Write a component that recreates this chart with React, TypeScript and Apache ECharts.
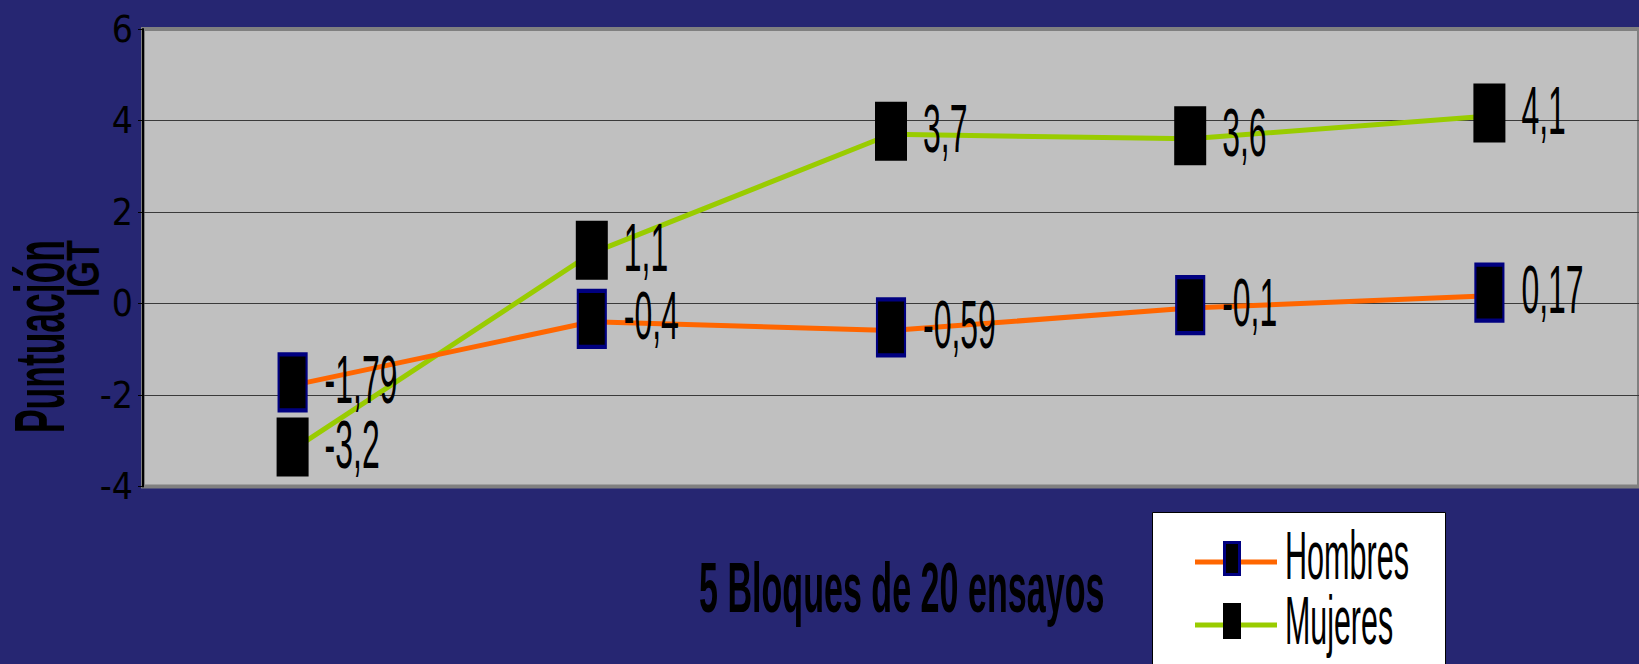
import React, { useEffect, useRef } from "react";
import * as echarts from "echarts";

const categories = ["Bloque 1", "Bloque 2", "Bloque 3", "Bloque 4", "Bloque 5"];
const seriesNames = ["Hombres", "Mujeres"];
const hombres = [-1.79, -0.4, -0.59, -0.1, 0.17];
const mujeres = [-3.2, 1.1, 3.7, 3.6, 4.1];
const yAxisTitle = ["Puntuación", "IGT"];
const xAxisTitle = "5 Bloques de 20 ensayos";
const yMin = -4;
const yMax = 6;
const yStep = 2;

const BG = "#262672";
const ORANGE = "#FF6600";
const GREEN = "#99CC00";
const NAVY = "#000080";
const LABEL_FONT = '"Liberation Sans", Arial, sans-serif';

const fmt = (v: number) => String(v).replace(".", ",");

const labelSeries = (name: string, values: number[]) => ({
  type: "custom",
  name: name + "-labels",
  coordinateSystem: "cartesian2d",
  silent: true,
  z: 5,
  encode: { x: 0, y: 1 },
  data: values.map((v, i) => [i, v]),
  renderItem: (_params: any, api: any) => {
    const v = api.value(1);
    const p = api.coord([api.value(0), v]);
    return {
      type: "text",
      x: p[0] + 32,
      y: p[1] - 6,
      scaleX: 0.47,
      style: {
        text: fmt(v),
        fill: "#000",
        font: "68px " + LABEL_FONT,
        align: "left",
        verticalAlign: "middle",
      },
    };
  },
});

export default function App() {
  const ref = useRef<HTMLDivElement>(null);
  useEffect(() => {
    if (!ref.current) return;
    const chart = echarts.init(ref.current, undefined, { renderer: "svg" });
    chart.setOption({
      animation: false,
      backgroundColor: BG,
      grid: {
        left: 143,
        right: -18,
        top: 29,
        bottom: 177.5,
        show: true,
        backgroundColor: "#C0C0C0",
        borderColor: "#808080",
        borderWidth: 4,
      },
      xAxis: {
        type: "category",
        data: categories,
        boundaryGap: true,
        axisLine: { show: false },
        axisTick: { show: false },
        axisLabel: { show: false },
        splitLine: { show: false },
      },
      yAxis: {
        type: "value",
        min: yMin,
        max: yMax,
        interval: yStep,
        axisLine: { show: true, lineStyle: { color: "#000", width: 2 } },
        axisTick: { show: true, length: 5, lineStyle: { color: "#000", width: 1 } },
        axisLabel: {
          color: "#000",
          fontFamily: '"Liberation Sans Narrow", "DejaVu Sans Condensed", sans-serif',
          fontSize: 37,
          margin: 10,
        },
        splitLine: {
          show: true,
          showMinLine: false,
          showMaxLine: false,
          lineStyle: { color: "#3a3a3a", width: 1 },
        },
      },
      series: [
        {
          type: "line",
          name: seriesNames[0],
          data: hombres,
          symbol: "rect",
          symbolSize: [28, 56],
          symbolOffset: [0, -3],
          lineStyle: { color: ORANGE, width: 5 },
          itemStyle: { color: "#000", borderColor: NAVY, borderWidth: 3 },
          z: 3,
        },
        {
          type: "line",
          name: seriesNames[1],
          data: mujeres,
          symbol: "rect",
          symbolSize: [32, 59],
          symbolOffset: [0, -3],
          lineStyle: { color: GREEN, width: 5 },
          itemStyle: { color: "#000", borderWidth: 0 },
          z: 2,
        },
        labelSeries(seriesNames[0], hombres),
        labelSeries(seriesNames[1], mujeres),
      ],
      graphic: [
        {
          type: "text",
          x: 40,
          y: 433,
          rotation: Math.PI / 2,
          scaleX: 0.506,
          style: {
            text: yAxisTitle[0],
            fill: "#000",
            font: "bold 70px " + LABEL_FONT,
            align: "left",
            verticalAlign: "middle",
          },
        },
        {
          type: "text",
          x: 83.5,
          y: 297,
          rotation: Math.PI / 2,
          scaleX: 0.74,
          style: {
            text: yAxisTitle[1],
            fill: "#000",
            font: "bold 46px " + LABEL_FONT,
            align: "left",
            verticalAlign: "middle",
          },
        },
        {
          type: "text",
          x: 699,
          y: 588,
          scaleX: 0.487,
          style: {
            text: xAxisTitle,
            fill: "#000",
            font: "bold 70px " + LABEL_FONT,
            align: "left",
            verticalAlign: "middle",
          },
        },
        {
          type: "group",
          children: [
            {
              type: "rect",
              shape: { x: 1152.5, y: 512.5, width: 293, height: 170 },
              style: { fill: "#fff", stroke: "#000", lineWidth: 1 },
            },
            {
              type: "line",
              shape: { x1: 1195, y1: 562, x2: 1277, y2: 562 },
              style: { stroke: ORANGE, lineWidth: 5 },
            },
            {
              type: "rect",
              shape: { x: 1224.5, y: 542.5, width: 15, height: 32 },
              style: { fill: "#000", stroke: NAVY, lineWidth: 3 },
            },
            {
              type: "line",
              shape: { x1: 1195, y1: 625, x2: 1277, y2: 625 },
              style: { stroke: GREEN, lineWidth: 5 },
            },
            {
              type: "rect",
              shape: { x: 1223, y: 603, width: 18, height: 36 },
              style: { fill: "#000" },
            },
            {
              type: "text",
              x: 1285,
              y: 555.5,
              scaleX: 0.45,
              style: {
                text: seriesNames[0],
                fill: "#000",
                font: "68px " + LABEL_FONT,
                align: "left",
                verticalAlign: "middle",
              },
            },
            {
              type: "text",
              x: 1285,
              y: 620,
              scaleX: 0.447,
              style: {
                text: seriesNames[1],
                fill: "#000",
                font: "68px " + LABEL_FONT,
                align: "left",
                verticalAlign: "middle",
              },
            },
          ],
        },
      ],
    });
    return () => chart.dispose();
  }, []);
  return (
    <div
      ref={ref}
      style={{ position: "fixed", left: 0, top: 0, width: 1639, height: 664 }}
    />
  );
}
